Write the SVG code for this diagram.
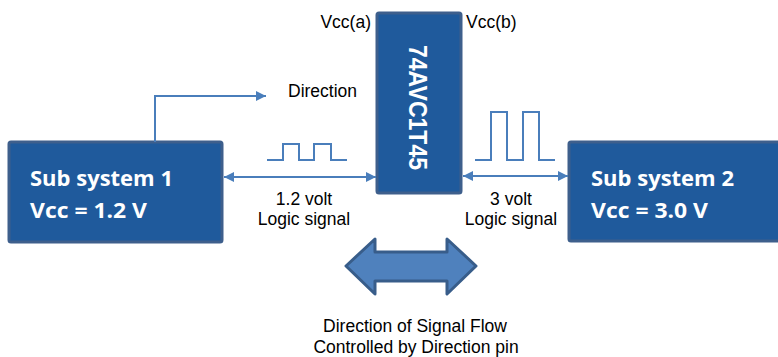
<svg xmlns="http://www.w3.org/2000/svg" width="778" height="357" viewBox="0 0 778 357">
<style>
.box{fill:#1f5a9c;stroke:#3e5f8c;stroke-width:3}
.bt{font-family:"Open Sans","Liberation Sans",sans-serif;font-weight:bold;font-size:22px;fill:#fff}
.lbl{font-family:"Liberation Sans",Arial,sans-serif;font-size:17.5px;fill:#000}
.wire{fill:none;stroke:#4a7ebb;stroke-width:2}
</style>
<defs>
<marker id="ah" viewBox="0 0 10 10" refX="10" refY="5" markerWidth="5" markerHeight="5" orient="auto-start-reverse" markerUnits="strokeWidth">
<path d="M0,0 L10,5 L0,10 z" fill="#4a7ebb"/>
</marker>
</defs>
<rect width="778" height="357" fill="#fff"/>
<g id="sub1">
<rect class="box" x="9" y="142" width="213" height="100" rx="2"/>
<text class="bt" x="30" y="186" textLength="143" lengthAdjust="spacingAndGlyphs">Sub system 1</text>
<text class="bt" x="30" y="218" textLength="117" lengthAdjust="spacingAndGlyphs">Vcc = 1.2 V</text>
</g>
<g id="chip">
<rect class="box" x="377" y="13" width="84" height="180" rx="2"/>
<text transform="translate(409,45) rotate(90)" font-family="Liberation Sans,Arial,sans-serif" font-weight="bold" font-size="26" fill="#fff" textLength="125" lengthAdjust="spacingAndGlyphs">74AVC1T45</text>
</g>
<g id="sub2">
<rect class="box" x="569" y="142" width="215" height="99" rx="2"/>
<text class="bt" x="591" y="186" textLength="143" lengthAdjust="spacingAndGlyphs">Sub system 2</text>
<text class="bt" x="591" y="218" textLength="117" lengthAdjust="spacingAndGlyphs">Vcc = 3.0 V</text>
</g>
<g id="connectors">
<line class="wire" x1="224" y1="177" x2="376" y2="177" marker-start="url(#ah)" marker-end="url(#ah)"/>
<line class="wire" x1="463" y1="176" x2="568" y2="176" marker-start="url(#ah)" marker-end="url(#ah)"/>
<polyline class="wire" points="155,142 155,96 266,96" marker-end="url(#ah)"/>
<polyline class="wire" points="267,160 283,160 283,144 299,144 299,160 314,160 314,144 331,144 331,160 347,160"/>
<polyline class="wire" points="475,160 491,160 491,112 507,112 507,160 523,160 523,112 539,112 539,160 555,160"/>
</g>
<g id="flow">
<path d="M346,266 L375,239 L375,252 L447,252 L447,239 L476,266 L447,294 L447,281 L375,281 L375,294 Z" fill="#4f81bd" stroke="#385d8a" stroke-width="3" stroke-linejoin="round"/>
</g>
<g id="labels">
<text class="lbl" x="371" y="28" text-anchor="end">Vcc(a)</text>
<text class="lbl" x="466" y="28">Vcc(b)</text>
<text class="lbl" x="288" y="97">Direction</text>
<text class="lbl" x="304" y="205" text-anchor="middle">1.2 volt</text>
<text class="lbl" x="304" y="225" text-anchor="middle">Logic signal</text>
<text class="lbl" x="511" y="205" text-anchor="middle">3 volt</text>
<text class="lbl" x="511" y="225" text-anchor="middle">Logic signal</text>
<text class="lbl" x="415" y="332" text-anchor="middle">Direction of Signal Flow</text>
<text class="lbl" x="416" y="353" text-anchor="middle">Controlled by Direction pin</text>
</g>
</svg>
